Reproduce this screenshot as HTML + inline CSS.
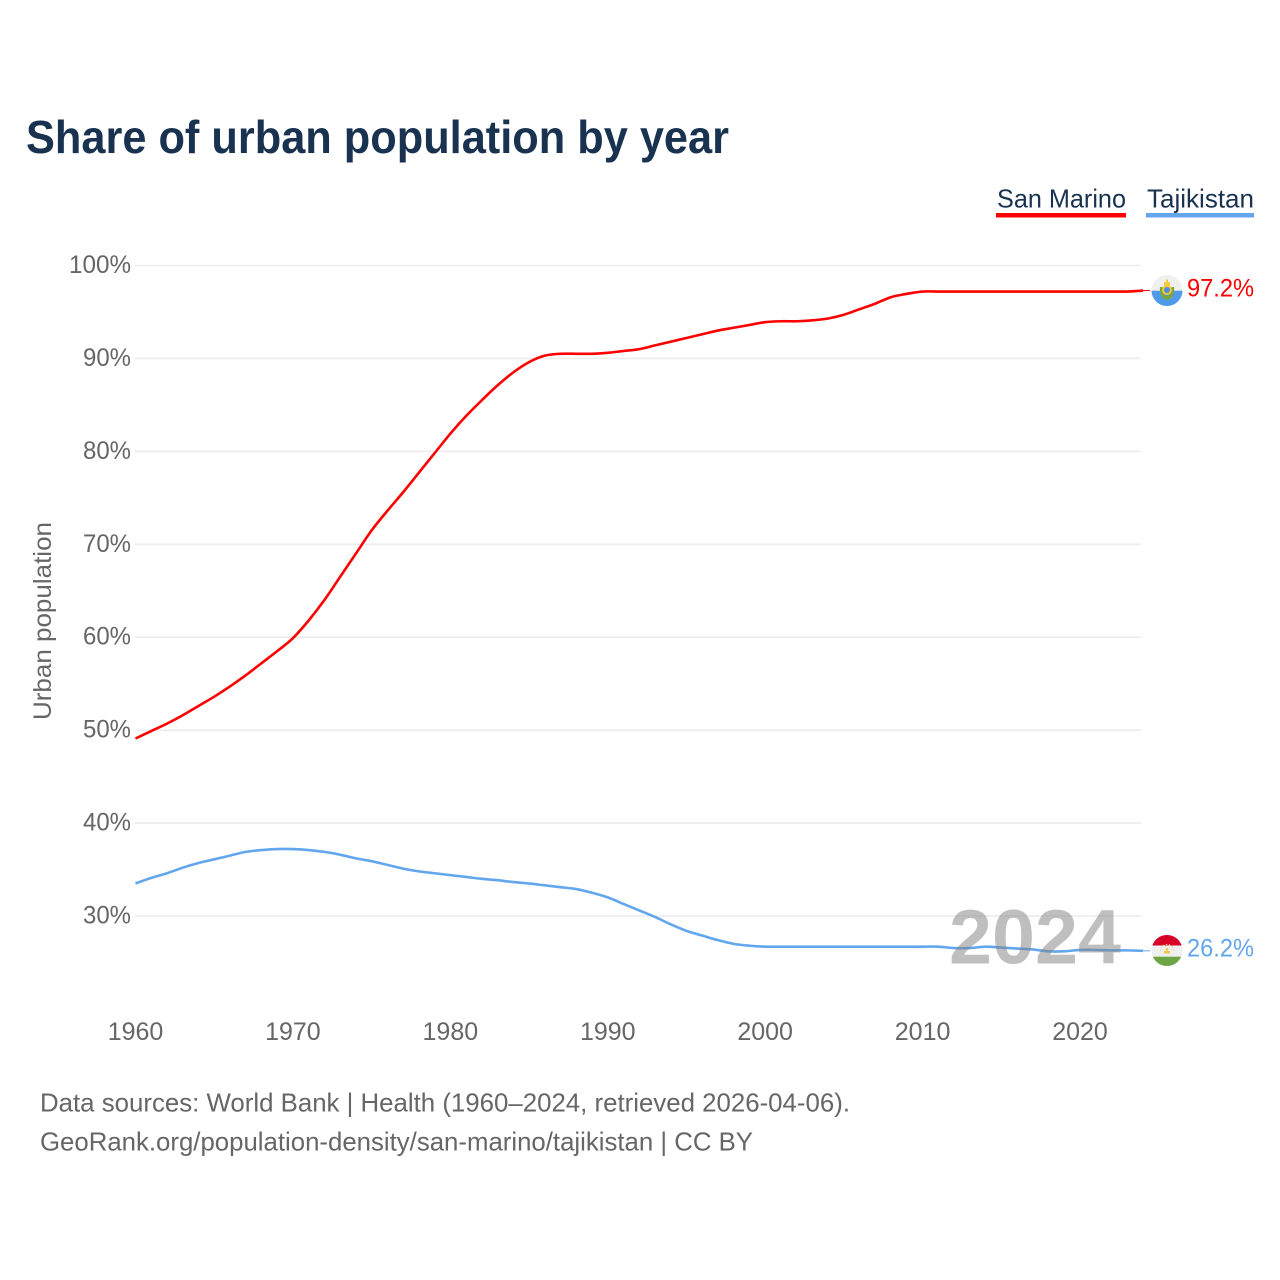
<!DOCTYPE html>
<html lang="en">
<head>
<meta charset="utf-8">
<title>Share of urban population by year</title>
<style>
html,body{margin:0;padding:0;background:#fff;}
svg{display:block;font-family:"Liberation Sans",Arial,sans-serif;}
</style>
</head>
<body>
<svg id="chart" xmlns="http://www.w3.org/2000/svg" width="1280" height="1280" viewBox="0 0 1280 1280">
  <rect x="0" y="0" width="1280" height="1280" fill="#ffffff"/>
  <text x="26" y="153" font-size="46" font-weight="700" fill="#18324f" textLength="703" lengthAdjust="spacingAndGlyphs">Share of urban population by year</text>

  <g>
    <g>
      <text x="997" y="207.5" font-size="26" fill="#18324f" textLength="129" lengthAdjust="spacingAndGlyphs">San Marino</text>
      <rect x="996" y="213" width="130" height="4.5" fill="#ff0000"/>
    </g>
    <g>
      <text x="1147" y="207.5" font-size="26" fill="#18324f" textLength="107" lengthAdjust="spacingAndGlyphs">Tajikistan</text>
      <rect x="1146" y="213" width="108" height="4.5" fill="#62a6ee"/>
    </g>
  </g>

  <g id="grid"></g>
  <g id="ytick"></g>
  <g id="xtick"></g>
  <text transform="translate(51 621) rotate(-90)" text-anchor="middle" font-size="25" fill="#666666" textLength="198" lengthAdjust="spacingAndGlyphs">Urban population</text>

  <g id="series"></g>
  <text id="year-watermark" x="1035" y="963.5" text-anchor="middle" font-size="77" font-weight="700" fill="#808080" fill-opacity="0.5" textLength="172" lengthAdjust="spacingAndGlyphs"></text>

  <g>
    <clipPath id="clip-sm"><circle cx="1167" cy="290.5" r="15.5"/></clipPath>
    <g clip-path="url(#clip-sm)">
      <rect x="1150" y="274" width="34" height="17" fill="#f0f0f0"/>
      <rect x="1150" y="290.7" width="34" height="17" fill="#4f9bea"/>
    </g>
    <path d="M1160 287 Q1159 298 1167 300 Q1175 298 1174 287 L1171.5 287 Q1172 295 1167 296 Q1162 295 1162.5 287Z" fill="#7ca63c"/>
    <circle cx="1167" cy="290" r="5" fill="#f2c53d"/>
    <circle cx="1167" cy="290" r="3" fill="#4a90d9"/>
    <rect x="1164" y="282" width="6" height="4" fill="#f6cc45"/>
    <rect x="1166" y="279.5" width="2" height="3" fill="#f6cc45"/>
  </g>
  <g>
    <clipPath id="clip-tj"><circle cx="1167" cy="950.5" r="15.5"/></clipPath>
    <g clip-path="url(#clip-tj)">
      <rect x="1150" y="934" width="34" height="11.5" fill="#d80027"/>
      <rect x="1150" y="945.5" width="34" height="11.5" fill="#f0f0f0"/>
      <rect x="1150" y="956.7" width="34" height="11" fill="#6da544"/>
    </g>
    <rect x="1164" y="951" width="6" height="2.5" fill="#f5c542"/>
    <circle cx="1167" cy="949.5" r="1.4" fill="#f5c542"/>
    <path d="M1160.5 951 A6.5 6.5 0 0 1 1173.5 951" fill="none" stroke="#f5d87a" stroke-width="1.2" stroke-dasharray="1.4 1.6"/>
  </g>

  <g id="endlabels"></g>

  <text x="40" y="1111.5" font-size="26" fill="#666666" textLength="810" lengthAdjust="spacingAndGlyphs">Data sources: World Bank | Health (1960–2024, retrieved 2026-04-06).</text>
  <text x="40" y="1150.5" font-size="26" fill="#666666" textLength="713" lengthAdjust="spacingAndGlyphs">GeoRank.org/population-density/san-marino/tajikistan | CC BY</text>
</svg>

<script>
var years = [1960,1961,1962,1963,1964,1965,1966,1967,1968,1969,
  1970,1971,1972,1973,1974,1975,1976,1977,1978,1979,
  1980,1981,1982,1983,1984,1985,1986,1987,1988,1989,
  1990,1991,1992,1993,1994,1995,1996,1997,1998,1999,
  2000,2001,2002,2003,2004,2005,2006,2007,2008,2009,
  2010,2011,2012,2013,2014,2015,2016,2017,2018,2019,
  2020,2021,2022,2023,2024];
var sanMarinoValues = [49.1,49.9,50.7,51.6,52.6,53.6,54.7,55.9,57.2,58.5,
  59.9,61.8,64.0,66.5,69.0,71.5,73.6,75.6,77.7,79.8,
  81.9,83.8,85.5,87.1,88.5,89.6,90.3,90.5,90.5,90.5,
  90.6,90.8,91.0,91.4,91.8,92.2,92.6,93.0,93.3,93.6,
  93.9,94.0,94.0,94.1,94.3,94.7,95.3,95.9,96.6,96.95,
  97.2,97.2,97.2,97.2,97.2,97.2,97.2,97.2,97.2,97.2,
  97.2,97.2,97.2,97.2,97.3];
var tajikistanValues = [33.5,34.1,34.6,35.2,35.7,36.1,36.5,36.9,37.1,37.2,
  37.2,37.1,36.9,36.6,36.2,35.9,35.5,35.1,34.8,34.6,
  34.4,34.2,34.0,33.85,33.65,33.5,33.3,33.1,32.9,32.5,
  32.0,31.3,30.6,29.9,29.1,28.4,27.9,27.4,27.0,26.8,
  26.7,26.7,26.7,26.7,26.7,26.7,26.7,26.7,26.7,26.7,
  26.7,26.7,26.55,26.55,26.7,26.6,26.5,26.4,26.2,26.2,
  26.35,26.35,26.3,26.3,26.25];
var yTicks = [100,90,80,70,60,50,40,30];
var yTickLabels = ["100%","90%","80%","70%","60%","50%","40%","30%"];
var xTicks = [1960,1970,1980,1990,2000,2010,2020];
var xTickLabels = ["1960","1970","1980","1990","2000","2010","2020"];
var endLabels = ["97.2%","26.2%"];
var currentYear = "2024";

var NS = "http://www.w3.org/2000/svg";
var RED = "#ff0000", BLUE = "#62a6ee";

function xScale(year) { return 135.5 + (year - 1960) * (1080 - 135.5) / 60; }
function yScale(value) { return 265.5 + (100 - value) * (916 - 265.5) / 70; }
function make(tag, parentId) {
  var el = document.createElementNS(NS, tag);
  document.getElementById(parentId).appendChild(el);
  return el;
}
function labelWidth(label) { return (label.length - 1) * 14 + 20; }

yTicks.forEach(function (tick, i) {
  var line = make("line", "grid");
  
  
  line.setAttribute("x1", 135);
  line.setAttribute("x2", 1141);
  line.setAttribute("y1", yScale(tick));
  line.setAttribute("y2", yScale(tick));
  line.setAttribute("stroke", "#ececec");
  line.setAttribute("stroke-width", 1.6);

  var text = make("text", "ytick");
  
  
  text.setAttribute("x", 131 - labelWidth(yTickLabels[i]));
  text.setAttribute("y", yScale(tick) + 7.5);
  text.setAttribute("font-size", 25);
  text.setAttribute("fill", "#666666");
  text.setAttribute("textLength", labelWidth(yTickLabels[i]));
  text.setAttribute("lengthAdjust", "spacingAndGlyphs");
  text.textContent = yTickLabels[i];
});

xTicks.forEach(function (tick, i) {
  var text = make("text", "xtick");
  
  
  text.setAttribute("x", xScale(tick));
  text.setAttribute("y", 1040);
  text.setAttribute("text-anchor", "middle");
  text.setAttribute("font-size", 25);
  text.setAttribute("fill", "#666666");
  text.textContent = xTickLabels[i];
});

function pathFor(values) {
  var pts = values.map(function (v, i) { return [xScale(years[i]), yScale(v)]; });
  var d = "M" + pts[0][0].toFixed(2) + " " + pts[0][1].toFixed(2);
  for (var i = 0; i < pts.length - 1; i++) {
    var p0 = pts[Math.max(i - 1, 0)], p1 = pts[i], p2 = pts[i + 1], p3 = pts[Math.min(i + 2, pts.length - 1)];
    d += " C" + (p1[0] + (p2[0] - p0[0]) / 6).toFixed(2) + " " + (p1[1] + (p2[1] - p0[1]) / 6).toFixed(2) +
         " " + (p2[0] - (p3[0] - p1[0]) / 6).toFixed(2) + " " + (p2[1] - (p3[1] - p1[1]) / 6).toFixed(2) +
         " " + p2[0].toFixed(2) + " " + p2[1].toFixed(2);
  }
  return d;
}

var redLine = make("path", "series");


redLine.setAttribute("d", pathFor(sanMarinoValues));
redLine.setAttribute("fill", "none");
redLine.setAttribute("stroke", RED);
redLine.setAttribute("stroke-width", 2.6);
redLine.setAttribute("stroke-linejoin", "round");

var blueLine = make("path", "series");


blueLine.setAttribute("d", pathFor(tajikistanValues));
blueLine.setAttribute("fill", "none");
blueLine.setAttribute("stroke", BLUE);
blueLine.setAttribute("stroke-width", 2.6);
blueLine.setAttribute("stroke-linejoin", "round");

var lastIndex = years.length - 1;

var redLead = make("line", "series");


redLead.setAttribute("x1", xScale(years[lastIndex]));
redLead.setAttribute("x2", 1150);
redLead.setAttribute("y1", yScale(sanMarinoValues[lastIndex]));
redLead.setAttribute("y2", yScale(sanMarinoValues[lastIndex]));
redLead.setAttribute("stroke", RED);
redLead.setAttribute("stroke-width", 1);

var blueLead = make("line", "series");


blueLead.setAttribute("x1", xScale(years[lastIndex]));
blueLead.setAttribute("x2", 1150);
blueLead.setAttribute("y1", yScale(tajikistanValues[lastIndex]));
blueLead.setAttribute("y2", yScale(tajikistanValues[lastIndex]));
blueLead.setAttribute("stroke", BLUE);
blueLead.setAttribute("stroke-width", 1);

var redEnd = make("text", "endlabels");


redEnd.setAttribute("x", 1187);
redEnd.setAttribute("y", yScale(sanMarinoValues[lastIndex]) + 6);
redEnd.setAttribute("font-size", 25);
redEnd.setAttribute("fill", RED);
redEnd.setAttribute("textLength", 67);
redEnd.setAttribute("lengthAdjust", "spacingAndGlyphs");
redEnd.textContent = endLabels[0];

var blueEnd = make("text", "endlabels");


blueEnd.setAttribute("x", 1187);
blueEnd.setAttribute("y", yScale(tajikistanValues[lastIndex]) + 5.5);
blueEnd.setAttribute("font-size", 25);
blueEnd.setAttribute("fill", BLUE);
blueEnd.setAttribute("textLength", 67);
blueEnd.setAttribute("lengthAdjust", "spacingAndGlyphs");
blueEnd.textContent = endLabels[1];

document.getElementById("year-watermark").textContent = currentYear;
</script>
</body>
</html>
